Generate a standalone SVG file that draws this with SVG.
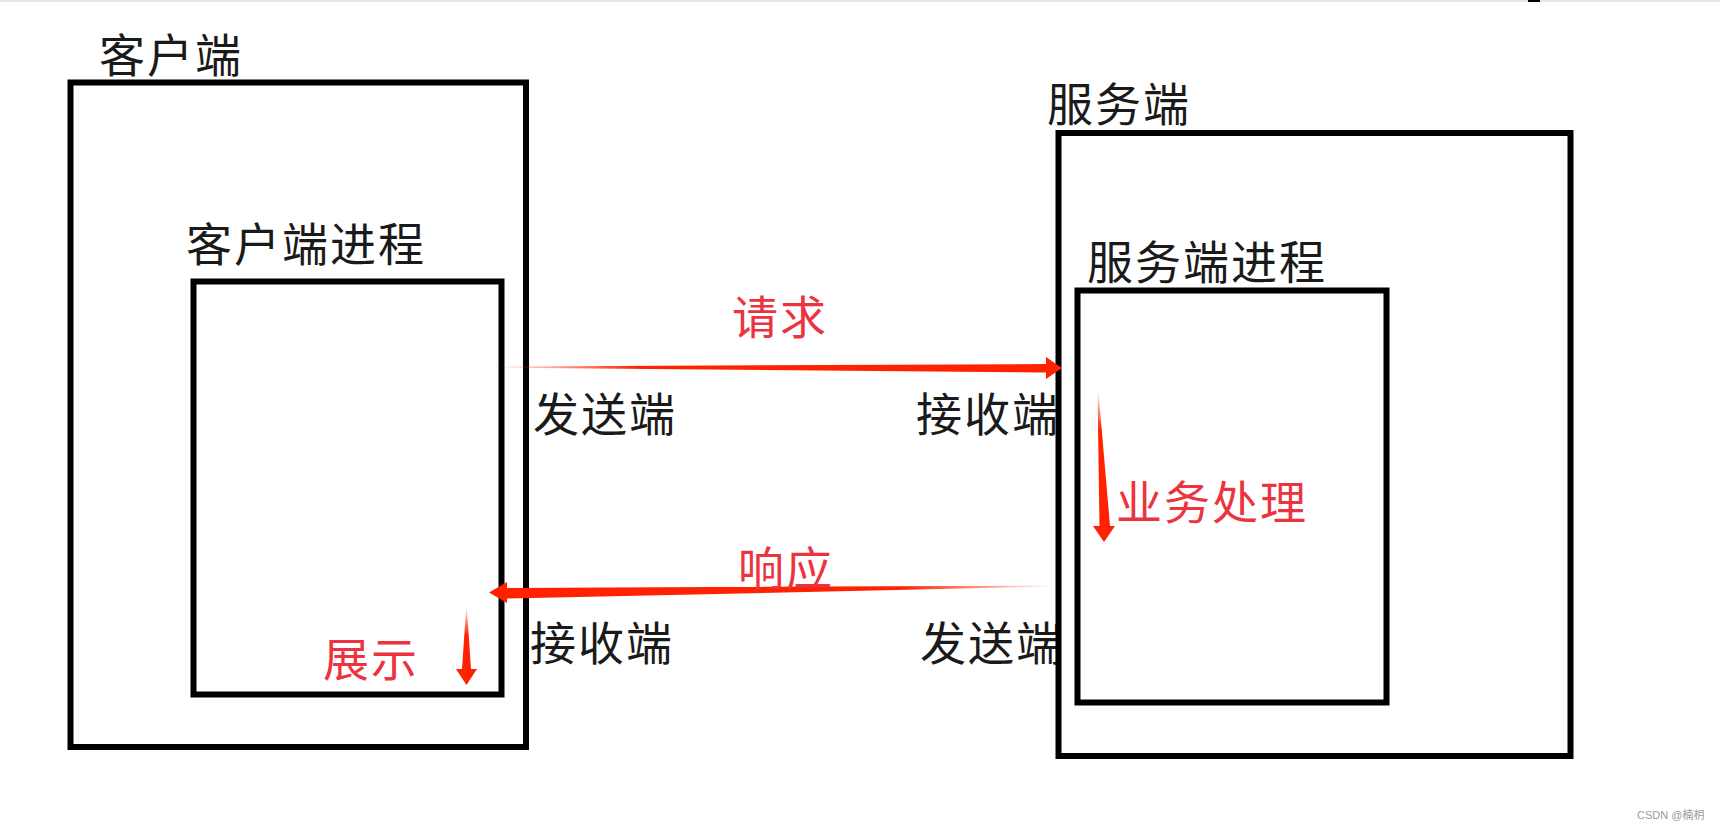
<svg xmlns="http://www.w3.org/2000/svg" width="1720" height="830" viewBox="0 0 1720 830">
  <style>
    .box { fill: none; stroke: #000; stroke-width: 6; }
    .t { font-family: "Noto Sans CJK SC", "Noto Sans CJK JP", sans-serif; font-size: 46px; letter-spacing: 2px; fill: #1a1a1a; }
    .r { fill: #ec3440; }
    .wm { font-family: "Liberation Sans", "Noto Sans CJK SC", sans-serif; font-size: 11px; fill: #9a9a9a; }
  </style>
  <defs>
    <linearGradient id="gReq" gradientUnits="userSpaceOnUse" x1="492" y1="0" x2="640" y2="0">
      <stop offset="0" stop-color="#ff2200" stop-opacity="0"/>
      <stop offset="1" stop-color="#ff2200" stop-opacity="1"/>
    </linearGradient>
    <linearGradient id="gRes" gradientUnits="userSpaceOnUse" x1="1056" y1="0" x2="900" y2="0">
      <stop offset="0" stop-color="#ff2200" stop-opacity="0"/>
      <stop offset="1" stop-color="#ff2200" stop-opacity="1"/>
    </linearGradient>
    <linearGradient id="gShow" gradientUnits="userSpaceOnUse" x1="0" y1="605" x2="0" y2="635">
      <stop offset="0" stop-color="#ff2200" stop-opacity="0"/>
      <stop offset="1" stop-color="#ff2200" stop-opacity="1"/>
    </linearGradient>
    <linearGradient id="gBiz" gradientUnits="userSpaceOnUse" x1="0" y1="390" x2="0" y2="430">
      <stop offset="0" stop-color="#ff2200" stop-opacity="0"/>
      <stop offset="1" stop-color="#ff2200" stop-opacity="1"/>
    </linearGradient>
  </defs>

  <rect x="0" y="0" width="1720" height="830" fill="#fff"/>
  <rect x="0" y="0" width="1720" height="2" fill="#ebe5df"/>
  <rect x="1528" y="0" width="12" height="2" fill="#000"/>

  <g id="endpoint-labels">
    <text class="t" x="533" y="431">发送端</text>
    <text class="t" x="916" y="431">接收端</text>
    <text class="t" x="530" y="660">接收端</text>
    <text class="t" x="920" y="660">发送端</text>
  </g>

  <g id="client">
    <rect class="box" x="70.5" y="82.5" width="455.5" height="664.5"/>
    <text class="t" x="99" y="72">客户端</text>
  </g>
  <g id="client-process">
    <rect class="box" x="193.5" y="281.5" width="308" height="413"/>
    <text class="t" x="186" y="261">客户端进程</text>
    <text class="t r" x="323" y="676">展示</text>
  </g>
  <g id="server">
    <rect class="box" x="1058.5" y="133" width="512" height="623"/>
    <text class="t" x="1047" y="121">服务端</text>
  </g>
  <g id="server-process">
    <rect class="box" x="1077.5" y="290.5" width="309" height="412"/>
    <text class="t" x="1087" y="279">服务端进程</text>
    <text class="t r" x="1116" y="519">业务处理</text>
  </g>

  <g id="connectors">
    <polygon fill="url(#gReq)" points="492,366.5 1046,364 1046,357 1062,368 1046,379 1046,372.5 492,367.5"/>
    <text class="t r" x="732" y="334">请求</text>
    <polygon fill="url(#gRes)" points="1056,585.5 507,588 507,582 489,592.5 507,603 507,598.5 1056,586.5"/>
    <text class="t r" x="738" y="585">响应</text>
    <polygon fill="url(#gShow)" points="466.8,607 471,669 477,669 466.5,685 456,669 462,669 466.2,607"/>
    <polygon fill="url(#gBiz)" points="1098.5,392 1110,526 1115,526 1104,542 1093,526 1099.5,526 1097.5,392"/>
  </g>

  <text class="wm" x="1637" y="819">CSDN @楠枂</text>
</svg>
